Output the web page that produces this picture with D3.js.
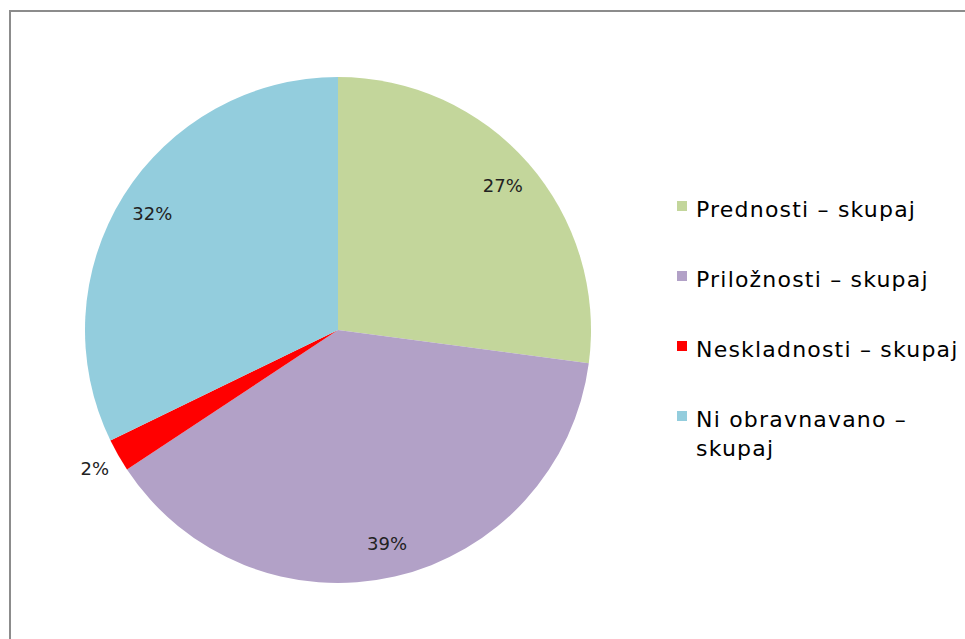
<!DOCTYPE html>
<html lang="sl">

<head>
    <meta charset="utf-8">
    <title>Pie chart</title>
    <script type="text/javascript" src="https://d3js.org/d3.v7.min.js"></script>
    <style>
        body { margin: 0; background: #fff; }
        svg { display: block; }
        .labels { font-family: "DejaVu Sans", Verdana, sans-serif; font-size: 18px; fill: #222; }
        .legend text { font-family: "DejaVu Sans", Verdana, sans-serif; font-size: 22px; letter-spacing: 1.2px; fill: #000; }
    </style>
</head>

<body>
    <div id="container"></div>
    <script type="text/javascript">
        var w = 965;
        var h = 639;

        // data (share of the whole, %)
        var categories = ["Prednosti – skupaj", "Priložnosti – skupaj", "Neskladnosti – skupaj", "Ni obravnavano – skupaj"];
        var values = [27.1, 38.6, 2.1, 32.2];
        var colors = ["#c3d69b", "#b2a1c7", "#ff0000", "#93cddd"];
        // legend lines (last entry wraps)
        var legendLines = [["Prednosti – skupaj"], ["Priložnosti – skupaj"], ["Neskladnosti – skupaj"], ["Ni obravnavano –", "skupaj"]];

        const svg = d3.select("div#container")
            .append("svg")
            .attr("width", w)
            .attr("height", h);

        // chart frame
        svg.append("rect")
            .attr("x", 10)
            .attr("y", 11)
            .attr("width", w + 20)
            .attr("height", h + 20)
            .attr("fill", "#fff")
            .attr("stroke", "#8c8c8c")
            .attr("stroke-width", 2);

        var cx = 338, cy = 330, r = 253;

        var pie = d3.pie().sort(null).value((d) => d);
        var arcs = pie(values);
        var arc = d3.arc().innerRadius(0).outerRadius(r);
        var labelArc = d3.arc().innerRadius(219).outerRadius(219);
        var outerLabelArc = d3.arc().innerRadius(280).outerRadius(280);

        var g = svg.append("g").attr("transform", "translate(" + cx + "," + cy + ")");

        g.selectAll("path")
            .data(arcs)
            .enter()
            .append("path")
            .attr("d", arc)
            .attr("fill", (d, i) => colors[i]);

        var total = d3.sum(values);
        g.selectAll("text")
            .data(arcs)
            .enter()
            .append("text")
            .attr("class", "labels")
            .attr("transform", (d) => {
                var c = (d.value / total < 0.05 ? outerLabelArc : labelArc).centroid(d);
                return "translate(" + c[0] + "," + c[1] + ")";
            })
            .attr("text-anchor", "middle")
            .attr("dy", "0.35em")
            .text((d) => Math.round(d.value / total * 100) + "%");

        // legend
        var legendY = d3.scalePoint().domain(categories).range([217, 427]);
        var legend = svg.append("g").attr("class", "legend");
        var items = legend.selectAll("g")
            .data(categories)
            .enter()
            .append("g")
            .attr("transform", (d) => "translate(0," + legendY(d) + ")");

        items.append("rect")
            .attr("x", 677)
            .attr("y", -16)
            .attr("width", 10)
            .attr("height", 10)
            .attr("fill", (d, i) => colors[i]);

        items.append("text")
            .attr("x", 696)
            .attr("y", 0)
            .selectAll("tspan")
            .data((d, i) => legendLines[i])
            .enter()
            .append("tspan")
            .attr("x", 696)
            .attr("dy", (d, j) => j === 0 ? 0 : 29)
            .text((d) => d);
    </script>
</body>

</html>
